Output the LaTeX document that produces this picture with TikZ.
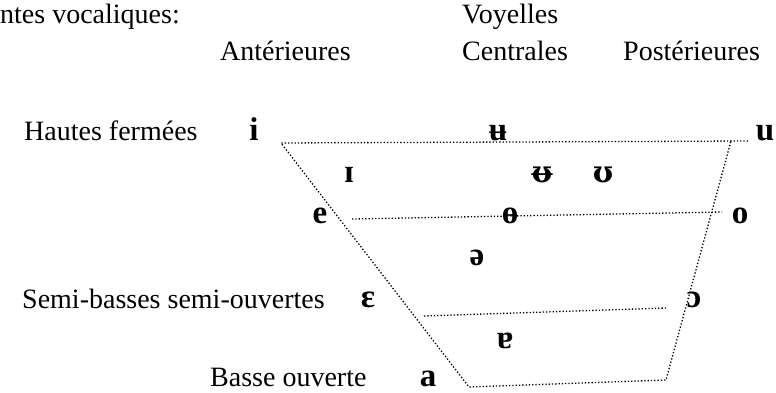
\documentclass[tikz,border=0pt]{standalone}
\usepackage{fontspec}
\setmainfont{Liberation Serif}
\newfontfamily\ipafont{DejaVu Serif}
\begin{document}
\begin{tikzpicture}[x=1pt,y=-1pt,
  lbl/.style={anchor=base west,inner sep=0pt,font=\fontsize{28}{32}\selectfont},
  ipa/.style={anchor=base,inner sep=0pt,font=\fontsize{33}{36}\selectfont\bfseries},
  dotline/.style={line width=1.3pt,dash pattern=on 1.3pt off 2pt}]
\useasboundingbox (0,0) rectangle (776,393);
% headings
\node[lbl] (title) at (0,24) {ntes vocaliques:};
\node[lbl] (voy) at (462,24) {Voyelles};
\node[lbl] (ant) at (220,61) {Antérieures};
\node[lbl] (cen) at (462,61) {Centrales};
\node[lbl] (pos) at (623,61) {Postérieures};
% row labels
\node[lbl] (haut) at (24,140) {Hautes fermées};
\node[lbl] (semi) at (22,308) {Semi-basses semi-ouvertes};
\node[lbl] (basse) at (210,386) {Basse ouverte};
% vowels
\node[ipa] (vi) at (254,141) {i};
\node[ipa] (vbu) at (498,141) {ʉ};
\node[ipa] (vu) at (765,141) {u};
\node[ipa] (vI) at (349,182) {ɪ};
\node[ipa] (vbU) at (542,182) {{\ipafont\fontsize{30}{34}\selectfont ᵿ}};
\node[ipa] (vU) at (603,182) {{\ipafont\fontsize{30}{34}\selectfont ʊ}};
\node[ipa] (ve) at (320,223) {e};
\node[ipa] (vbo) at (510,223) {ɵ};
\node[ipa] (vo) at (740,223) {o};
\node[ipa] (vschwa) at (477,265) {ə};
\node[ipa] (veps) at (368,307) {ɛ};
\node[ipa] (vopen) at (694,307) {ɔ};
\node[ipa] (vturna) at (505,348) {ɐ};
\node[ipa] (va) at (428,386) {a};
% trapezoid corners and line ends
\coordinate (tl) at (281,143);
\coordinate (tr) at (731,141);
\coordinate (tre) at (748,141);
\coordinate (bl) at (469,387);
\coordinate (br) at (666,380);
\coordinate (m1a) at (352,219);
\coordinate (m1b) at (722,212);
\coordinate (m2a) at (424,316);
\coordinate (m2b) at (666,308);
\draw[dotline] (tre) -- (tl) -- (bl) -- (br) -- (tr);
\draw[dotline] (m1a) -- (m1b);
\draw[dotline] (m2a) -- (m2b);
\end{tikzpicture}
\end{document}
